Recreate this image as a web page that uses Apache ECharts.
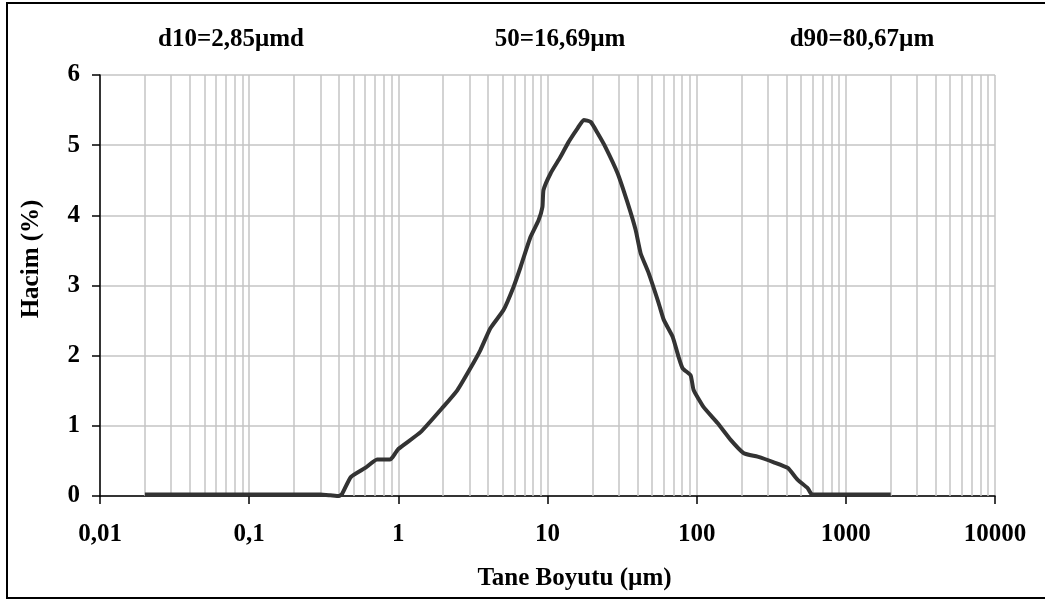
<!DOCTYPE html>
<html>
<head>
<meta charset="utf-8">
<script src="https://cdn.jsdelivr.net/npm/echarts@6/dist/echarts.min.js"></script>
<style>
html,body{margin:0;padding:0;background:#fff;}
#chart{width:1045px;height:602px;}
</style>
</head>
<body>
<div id="chart"></div>
<script>
// Particle size (µm)
const sizes = [0.02,0.03,0.05,0.1,0.2,0.3,0.35,0.4,0.42,0.48,0.6,0.72,0.88,0.92,1.0,1.41,2.0,2.49,3.04,3.55,4.14,5.07,5.92,6.59,7.69,8.71,9.25,9.4,10.5,12.2,13.8,15.9,17.5,19.5,21.7,24.5,29.5,34.4,39.0,42.1,47.6,55.6,60.2,69.0,75.7,80.5,91.1,95.4,111,138,169,207,256,329,408,476,556,582,600,1000,2000];
// Volume (%)
const volumes = [0.02,0.02,0.02,0.02,0.02,0.02,0.01,0.0,0.03,0.27,0.40,0.52,0.52,0.56,0.67,0.91,1.27,1.51,1.82,2.08,2.39,2.65,2.98,3.26,3.69,3.93,4.12,4.36,4.60,4.83,5.04,5.24,5.36,5.33,5.17,4.97,4.60,4.18,3.79,3.46,3.18,2.75,2.51,2.27,1.98,1.82,1.72,1.51,1.27,1.04,0.80,0.61,0.56,0.48,0.40,0.23,0.11,0.04,0.02,0.02,0.02];
const xTickValues = [0.01,0.1,1,10,100,1000,10000];
const minorGridValues = [];
[0.01,0.1,1,10,100,1000].forEach(d=>{for(let m=2;m<=9;m++){minorGridValues.push(+(d*m).toPrecision(3));}});
const annotations = ['d10=2,85μmd','50=16,69µm','d90=80,67µm'];
const annotationX = [231,560,862];

const FONT = '"Liberation Serif","Times New Roman",serif';
const chart = echarts.init(document.getElementById('chart'));
const option = {
  backgroundColor:'#fff',
  animation:false,
  grid:{left:100,right:50,top:75,bottom:106},
  xAxis:{
    type:'log', logBase:10, min:0.01, max:10000,
    name:'Tane Boyutu (µm)', nameLocation:'middle', nameGap:70,
    nameTextStyle:{fontFamily:FONT,fontWeight:'bold',fontSize:25,color:'#000',padding:[0,0,0,54]},
    axisLine:{lineStyle:{color:'#000',width:1.5}},
    axisTick:{show:true,length:8,lineStyle:{color:'#000',width:1.5}},
    axisLabel:{fontFamily:FONT,fontWeight:'bold',fontSize:25,color:'#000',margin:26,
      formatter:v=>{const r=xTickValues.find(t=>Math.abs(Math.log10(t)-Math.log10(v))<1e-6);return r===undefined?'':String(r).replace('.',',');}},
    splitLine:{show:true,lineStyle:{color:'#c4c4c4',width:1.5}},
    minorTick:{show:false}
  },
  yAxis:{
    type:'value', min:0, max:6, interval:1,
    name:'Hacim (%)', nameLocation:'middle', nameGap:56, nameRotate:90,
    nameTextStyle:{fontFamily:FONT,fontWeight:'bold',fontSize:25,color:'#000',padding:[0,0,0,53]},
    axisLine:{show:true,lineStyle:{color:'#000',width:1.5}},
    axisTick:{show:true,length:8,lineStyle:{color:'#000',width:1.5}},
    axisLabel:{fontFamily:FONT,fontWeight:'bold',fontSize:25,color:'#000',margin:20},
    splitLine:{show:true,lineStyle:{color:'#c4c4c4',width:1.5}}
  },
  graphic:[
    {type:'rect',shape:{x:7,y:3,width:1060,height:595},style:{fill:null,stroke:'#000',lineWidth:2},silent:true,z:-1},
    ...annotations.map((t,i)=>({type:'text',x:annotationX[i],y:40,style:{text:t,font:'bold 25px '+FONT,fill:'#000',align:'center',verticalAlign:'middle'}}))
  ],
  series:[
    {
      type:'line', data:[], silent:true,
      markLine:{silent:true,symbol:'none',label:{show:false},animation:false,
        lineStyle:{color:'#c4c4c4',width:1.5,type:'solid'},
        data:minorGridValues.map(v=>({xAxis:v}))},
      z:1
    },
    {
      type:'line',
      data:sizes.map((s,i)=>[s,volumes[i]]),
      showSymbol:false, symbol:'none', smooth:0.15,
      lineStyle:{color:'#333333',width:4},
      z:5
    }
  ]
};
chart.setOption(option);
</script>
</body>
</html>
